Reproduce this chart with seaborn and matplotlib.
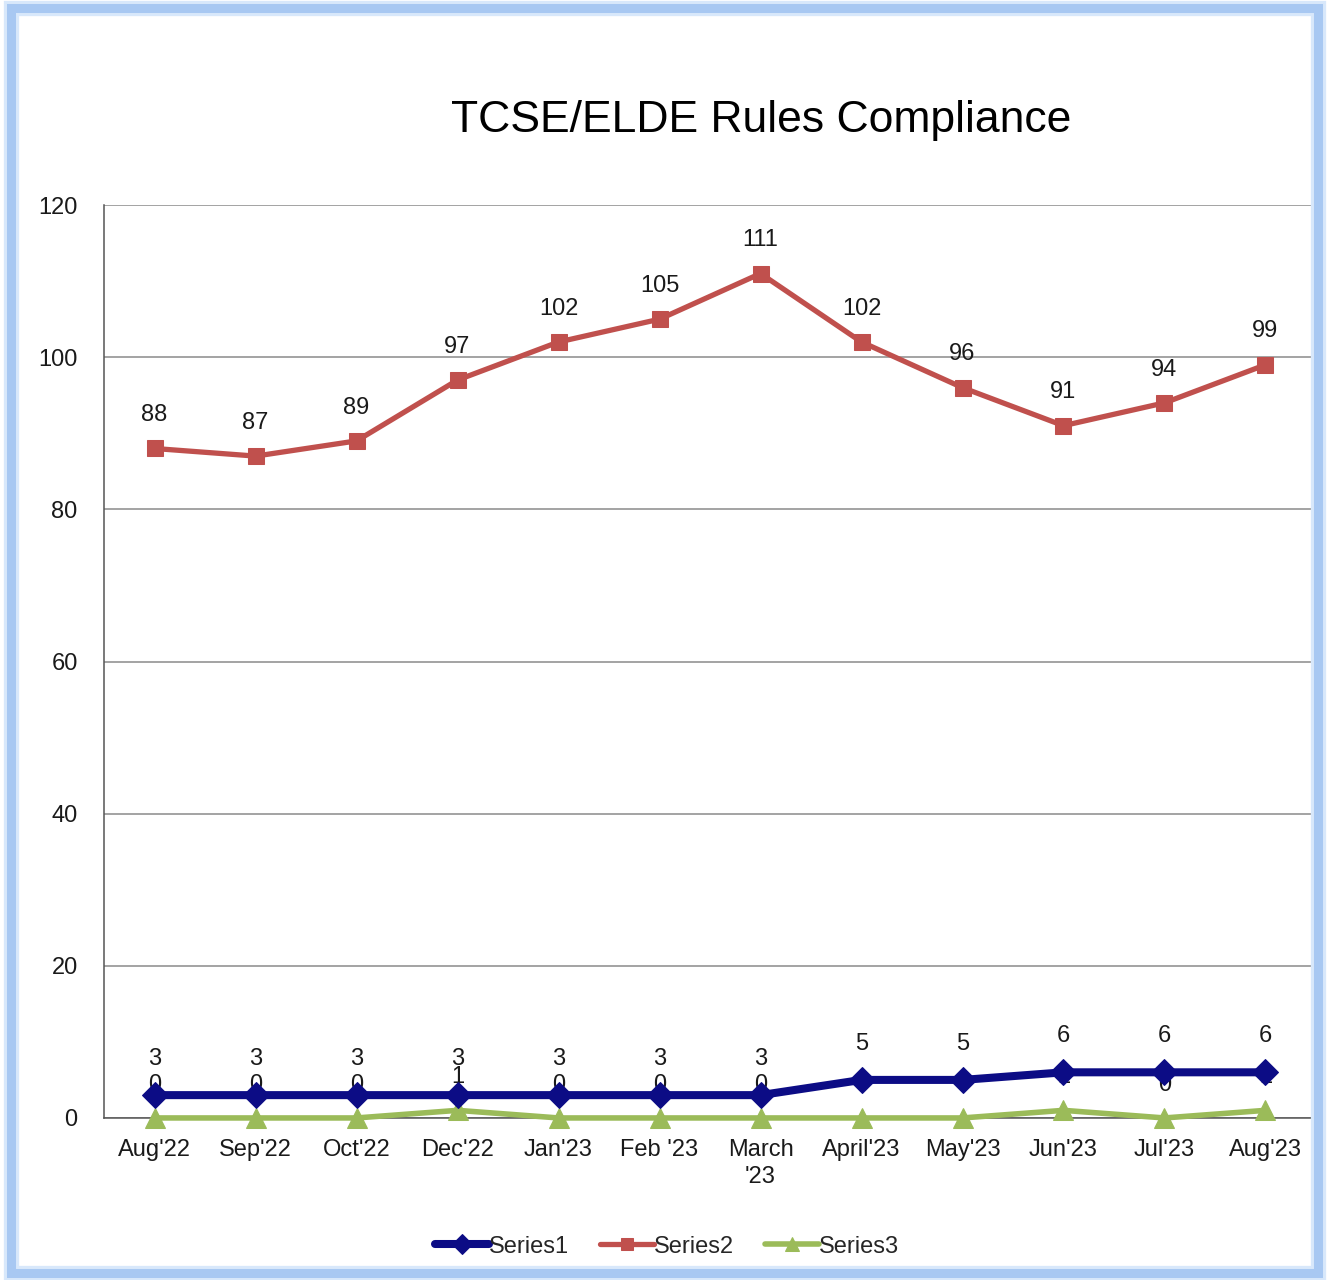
import matplotlib

matplotlib.use("Agg")
import matplotlib.pyplot as plt
from matplotlib.patches import Rectangle
import numpy as np
import pandas as pd
import seaborn as sns

months = ["Aug'22", "Sep'22", "Oct'22", "Dec'22", "Jan'23", "Feb '23",
          "March\n'23", "April'23", "May'23", "Jun'23", "Jul'23", "Aug'23"]
series1 = [3, 3, 3, 3, 3, 3, 3, 5, 5, 6, 6, 6]
series2 = [88, 87, 89, 97, 102, 105, 111, 102, 96, 91, 94, 99]
series3 = [0, 0, 0, 1, 0, 0, 0, 0, 0, 1, 0, 1]
y_ticks = [0, 20, 40, 60, 80, 100, 120]

sns.set_theme(style="white")
plt.rcParams["font.family"] = ["Liberation Sans", "DejaVu Sans"]

pos = np.arange(len(months))
df = pd.DataFrame({"pos": pos, "Series1": series1, "Series2": series2,
                   "Series3": series3})

fig = plt.figure(figsize=(13.29, 12.8), dpi=100)
ax = fig.add_axes([0.0783, 0.1266, 0.9119, 0.7132])

styles = [
    ("Series3", "#9bbb59", "^", 4.0, 14, 3),
    ("Series2", "#c0504d", "s", 3.8, 12, 4),
    ("Series1", "#0c0c85", "D", 5.8, 13, 5),
]
for name, col, mk, lw, ms, z in styles:
    sns.lineplot(data=df, x="pos", y=name, ax=ax, color=col, marker=mk,
                 markersize=ms, markeredgecolor=col, linewidth=lw,
                 label=name, zorder=z, sort=False, clip_on=False)

# data labels (Series3 labels sit partly under Series1, as in the source)
for name, off, z in [("Series2", 24, 6), ("Series3", 24, 4.5),
                     ("Series1", 26, 4.6)]:
    for x, v in zip(df["pos"], df[name]):
        ax.annotate(str(v), (x, v), xytext=(0, off),
                    textcoords="offset points", ha="center", va="center",
                    fontsize=17, color="#1a1a1a", zorder=z)

ax.set_xlim(-0.5, len(months) - 0.5)
ax.set_ylim(0, 120)
ax.set_yticks(y_ticks)
ax.set_xticks(pos)
ax.set_xticklabels(months, fontsize=17, color="#1a1a1a", linespacing=1.3)
ax.set_xticks(pos[:-1] + 0.5, minor=True)
ax.tick_params(axis="x", which="major", length=0, pad=15)
ax.tick_params(axis="x", which="minor", length=6, width=1,
               color="#555555", direction="out")
ax.tick_params(axis="y", length=7, width=1, color="#555555",
               direction="out", labelsize=17, labelcolor="#1a1a1a", pad=12)
ax.set_xlabel("")
ax.set_ylabel("")
ax.yaxis.grid(True, color="#8a8a8a", linewidth=1.1)
ax.set_axisbelow(True)
for side in ["top", "right"]:
    ax.spines[side].set_visible(False)
for side in ["left", "bottom"]:
    ax.spines[side].set_color("#555555")
    ax.spines[side].set_linewidth(1.1)

handles, labels = ax.get_legend_handles_labels()
order = [labels.index(s) for s in ["Series1", "Series2", "Series3"]]
ax.legend([handles[i] for i in order], [labels[i] for i in order],
          loc="center", bbox_to_anchor=(0.502, 0.026),
          bbox_transform=fig.transFigure, ncol=3, frameon=False,
          fontsize=17, handlelength=2.3, handletextpad=0.0,
          columnspacing=1.3, markerscale=0.75)

fig.text(0.573, 0.906, "TCSE/ELDE Rules Compliance", ha="center",
         va="center", fontsize=32, color="#000000")

# light blue frame around the chart
fig.patches.append(Rectangle((0.0085, 0.0055), 0.983, 0.9885,
                             transform=fig.transFigure, fill=False,
                             edgecolor="#d8e8fb", linewidth=11, zorder=10))
fig.patches.append(Rectangle((0.0085, 0.0055), 0.983, 0.9885,
                             transform=fig.transFigure, fill=False,
                             edgecolor="#a8c8f2", linewidth=6.5, zorder=11))

fig.savefig("out.png", dpi=100)
